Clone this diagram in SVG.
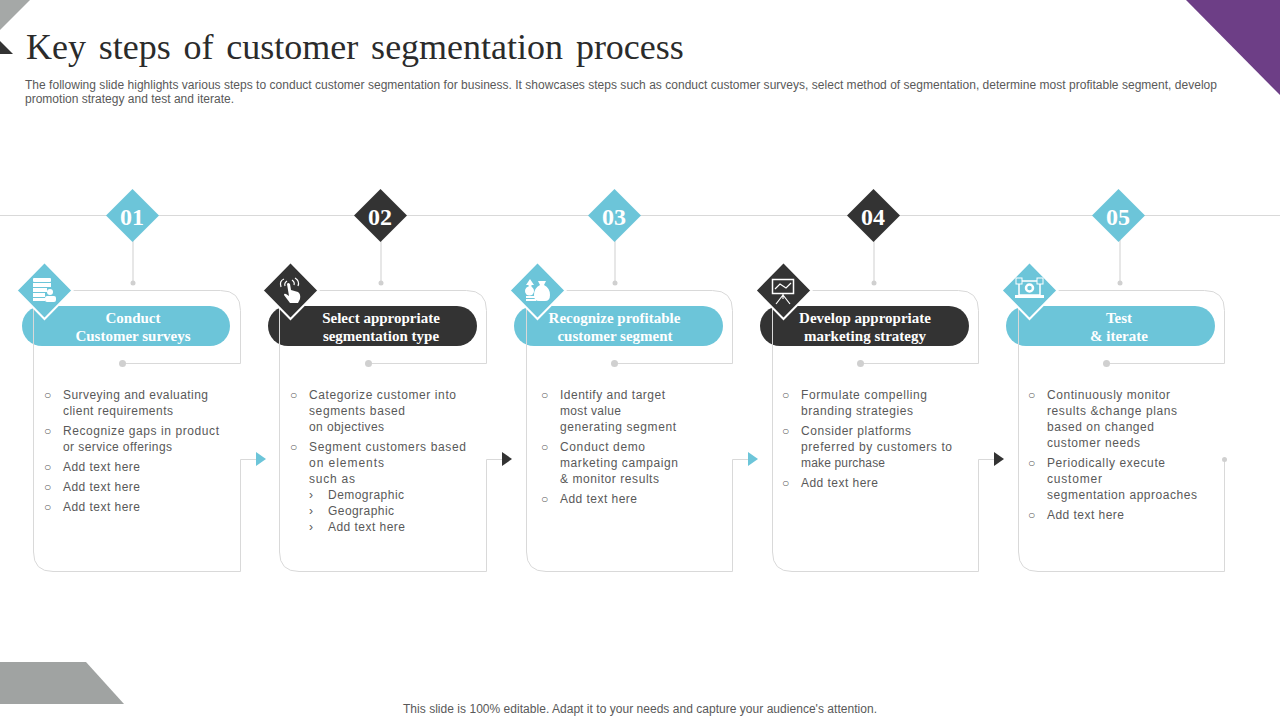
<svg xmlns="http://www.w3.org/2000/svg" width="1280" height="720" viewBox="0 0 1280 720">
<style>
text{font-family:"Liberation Sans",Arial,sans-serif;fill:#595959}
.b{font-size:12px;transform:translateY(-1px)}
.bul{font-size:12px;fill:#595959;transform:translateY(-1px)}
.d{font-size:12px}
.h{font-family:"Liberation Serif","Times New Roman",serif;font-weight:bold;font-size:15px;fill:#fff;text-anchor:middle}
.n{font-family:"Liberation Serif","Times New Roman",serif;font-weight:bold;font-size:24px;fill:#fff;text-anchor:middle}
.ln{fill:none;stroke:#d9d9d9;stroke-width:1}
.tick{fill:none;stroke:#e0e0e0;stroke-width:1.5}
.dot{fill:#d0d0d0}
.teal{fill:#6cc5d9}
.dark{fill:#333333}
.ic{fill:#fff}
.ics{fill:none;stroke:#fff;stroke-width:1.2}
.edge{stroke:#fff;stroke-width:2}
</style>
<g id="decor">
<polygon points="0,0 30,0 0,30" fill="#a5a8a7"/>
<polygon points="0,41 13,54 0,54" fill="#333333"/>
<polygon points="1186,0 1280,0 1280,95" fill="#6d3e86"/>
<polygon points="0,662 86,662 124,704 0,704" fill="#a0a3a2"/>
</g>
<text id="title" x="26" y="59" font-size="36" word-spacing="3.800" style="font-family:'Liberation Serif','Times New Roman',serif;fill:#2b2b2b">Key steps of customer segmentation process</text>
<g id="subtitle">
<text class="d" x="25" y="89" textLength="1192">The following slide  highlights various steps to conduct customer segmentation for business. It showcases steps such as conduct customer surveys, select method of segmentation, determine most profitable segment, develop</text>
<text class="d" x="25" y="103" textLength="209">promotion strategy and test and iterate.</text>
</g>
<g id="connectors">
<path class="ln" d="M0 215.500H1280"/>
<path class="tick" d="M133 240V285M381 240V285M615 240V285M874 240V285M1120 240V285"/>
<g class="dot"><circle cx="133" cy="283" r="2.500"/><circle cx="381" cy="283" r="2.500"/><circle cx="615" cy="283" r="2.500"/><circle cx="874" cy="283" r="2.500"/><circle cx="1120" cy="283" r="2.500"/></g>
<polygon class="teal" points="256,452 266,459 256,466"/>
<polygon class="dark" points="502,452 512,459 502,466"/>
<polygon class="teal" points="748,452 758,459 748,466"/>
<polygon class="dark" points="994,452 1004,459 994,466"/>
</g>
<g id="card1">
<path class="ln" d="M72 290.500H220.500Q240.500 290.500 240.500 310.500V363.500H123"/><circle class="dot" cx="122.500" cy="363.500" r="3.500"/>
<path class="ln" d="M33.500 308V552Q33.500 571.500 53 571.500H240.500V459.500H256"/>
<rect class="teal" x="22" y="306" width="208" height="40" rx="20"/>
<path class="ln" d="M33.500 308V346"/>
<polygon class="teal edge" points="44.500,262 72.500,290.500 44.500,319 16.500,290.500"/>
<g class="ic"><rect x="33" y="278" width="18" height="4" rx="1"/><rect x="33" y="283" width="18" height="4"/><rect x="33" y="288" width="14" height="4"/><rect x="33" y="293" width="12" height="4"/><rect x="33" y="298" width="12" height="3"/><circle cx="50" cy="292" r="3"/><rect x="45" y="296" width="11" height="6" rx="2"/></g>
<text class="h" x="133" y="323">Conduct</text><text class="h" x="133" y="341">Customer surveys</text>
<g id="num1"><polygon class="teal" points="132.500,189 159,215.500 132.500,242 106,215.500"/><text class="n" x="132" y="225">01</text></g>
<text class="bul" x="44" y="400">○</text><text class="b" x="63" y="400" textLength="145">Surveying  and evaluating</text>
<text class="b" x="63" y="416" textLength="110">client requirements</text>
<text class="bul" x="44" y="436">○</text><text class="b" x="63" y="436" textLength="156">Recognize gaps in product</text>
<text class="b" x="63" y="452" textLength="109">or service  offerings</text>
<text class="bul" x="44" y="472">○</text><text class="b" x="63" y="472" textLength="77">Add text here</text>
<text class="bul" x="44" y="492">○</text><text class="b" x="63" y="492" textLength="77">Add text here</text>
<text class="bul" x="44" y="512">○</text><text class="b" x="63" y="512" textLength="77">Add text here</text>
</g>
<g id="card2">
<path class="ln" d="M318 290.500H466.500Q486.500 290.500 486.500 310.500V363.500H369"/><circle class="dot" cx="368.500" cy="363.500" r="3.500"/>
<path class="ln" d="M279.500 308V552Q279.500 571.500 299 571.500H486.500V459.500H502"/>
<rect class="dark" x="268" y="306" width="209" height="40" rx="20"/>
<path class="ln" d="M279.500 308V346"/>
<polygon class="dark edge" points="290.500,262 318.500,290.500 290.500,319 262.500,290.500"/>
<g><path class="ic" d="M287 284q1-2 3 0l1 6 7 2q3 2 2 7l-2 4h-8l-6-8q0-2 2-1l3 2z"/><path class="ics" d="M281 287q-2-6 3-8M285 286q-1-3 2-5M298 286q2-5-3-8M294 285q1-3-2-5"/></g>
<text class="h" x="381" y="323">Select appropriate</text><text class="h" x="381" y="341">segmentation type</text>
<g id="num2"><polygon class="dark" points="380.500,189 407,215.500 380.500,242 354,215.500"/><text class="n" x="380" y="225">02</text></g>
<text class="bul" x="290" y="400">○</text><text class="b" x="309" y="400" textLength="147">Categorize customer into</text>
<text class="b" x="309" y="416" textLength="96">segments based</text>
<text class="b" x="309" y="432" textLength="75">on objectives</text>
<text class="bul" x="290" y="452">○</text><text class="b" x="309" y="452" textLength="157">Segment customers based</text>
<text class="b" x="309" y="468" textLength="75">on elements</text>
<text class="b" x="309" y="484" textLength="46">such as</text>
<text class="bul" x="309" y="500">›</text><text class="b" x="328" y="500" textLength="76">Demographic</text>
<text class="bul" x="309" y="516">›</text><text class="b" x="328" y="516" textLength="66">Geographic</text>
<text class="bul" x="309" y="532">›</text><text class="b" x="328" y="532" textLength="77">Add text here</text>
</g>
<g id="card3">
<path class="ln" d="M564 290.500H712.500Q732.500 290.500 732.500 310.500V363.500H615"/><circle class="dot" cx="614.500" cy="363.500" r="3.500"/>
<path class="ln" d="M526.500 308V552Q526.500 571.500 546 571.500H732.500V459.500H748"/>
<rect class="teal" x="514" y="306" width="209" height="40" rx="20"/>
<path class="ln" d="M526.500 308V346"/>
<polygon class="teal edge" points="537.500,262 565.500,290.500 537.500,319 509.500,290.500"/>
<g class="ic"><path d="M529 292l-.5-7h-2.500l4-6 4 6h-2.500v7z"/><circle cx="529.500" cy="291" r="4.500"/><rect x="526" y="296" width="10" height="2"/><rect x="526" y="299" width="10" height="2"/><path d="M538 281h8l-2 4q6 3 6 10 0 6-5 6h-6q-5 0-5-6 0-7 6-10z"/></g>
<text class="h" x="614.500" y="323">Recognize profitable</text><text class="h" x="615" y="341">customer segment</text>
<g id="num3"><polygon class="teal" points="614.500,189 641,215.500 614.500,242 588,215.500"/><text class="n" x="614" y="225">03</text></g>
<text class="bul" x="541" y="400">○</text><text class="b" x="560" y="400" textLength="105">Identify and target</text>
<text class="b" x="560" y="416" textLength="61">most value</text>
<text class="b" x="560" y="432" textLength="116">generating  segment</text>
<text class="bul" x="541" y="452">○</text><text class="b" x="560" y="452" textLength="85">Conduct demo</text>
<text class="b" x="560" y="468" textLength="118">marketing campaign</text>
<text class="b" x="560" y="484" textLength="99">&amp; monitor results</text>
<text class="bul" x="541" y="504">○</text><text class="b" x="560" y="504" textLength="77">Add text here</text>
</g>
<g id="card4">
<path class="ln" d="M810 290.500H958.500Q978.500 290.500 978.500 310.500V363.500H861"/><circle class="dot" cx="860.500" cy="363.500" r="3.500"/>
<path class="ln" d="M772.500 308V552Q772.500 571.500 792 571.500H978.500V459.500H994"/>
<rect class="dark" x="760" y="306" width="209" height="40" rx="20"/>
<path class="ln" d="M772.500 308V346"/>
<polygon class="dark edge" points="783.500,262 811.500,290.500 783.500,319 755.500,290.500"/>
<g><rect x="772.500" y="279.500" width="21" height="14" fill="none" stroke="#fff" stroke-width="1.500"/><path class="ics" d="M783 294V299M783 295L776 304M783 295L790 304M775 289L780 284L786 288L791 283"/></g>
<text class="h" x="865" y="323">Develop appropriate</text><text class="h" x="865" y="341">marketing strategy</text>
<g id="num4"><polygon class="dark" points="873.500,189 900,215.500 873.500,242 847,215.500"/><text class="n" x="873" y="225">04</text></g>
<text class="bul" x="782" y="400">○</text><text class="b" x="801" y="400" textLength="126">Formulate compelling</text>
<text class="b" x="801" y="416" textLength="112">branding strategies</text>
<text class="bul" x="782" y="436">○</text><text class="b" x="801" y="436" textLength="110">Consider  platforms</text>
<text class="b" x="801" y="452" textLength="151">preferred  by customers to</text>
<text class="b" x="801" y="468" textLength="84">make purchase</text>
<text class="bul" x="782" y="488">○</text><text class="b" x="801" y="488" textLength="77">Add text here</text>
</g>
<g id="card5">
<path class="ln" d="M1056 290.500H1204.500Q1224.500 290.500 1224.500 310.500V363.500H1107"/><circle class="dot" cx="1106.500" cy="363.500" r="3.500"/>
<path class="ln" d="M1018.500 308V552Q1018.500 571.500 1038 571.500H1224.500V459.500"/><circle class="dot" cx="1224.500" cy="459.500" r="2.500"/>
<rect class="teal" x="1006" y="306" width="209" height="40" rx="20"/>
<path class="ln" d="M1018.500 308V346"/>
<polygon class="teal edge" points="1029.500,262 1057.500,290.500 1029.500,319 1001.500,290.500"/>
<g><rect x="1019" y="281" width="21" height="14" fill="none" stroke="#fff" stroke-width="1.500"/><rect x="1015" y="295" width="29" height="3" class="ic"/><circle cx="1029.500" cy="288" r="3.500" fill="none" stroke="#fff" stroke-width="2.500"/><rect x="1016" y="278" width="6" height="6" fill="#6cc5d9" stroke="#fff"/><rect x="1037" y="278" width="6" height="6" fill="#6cc5d9" stroke="#fff"/></g>
<text class="h" x="1119" y="323">Test</text><text class="h" x="1119" y="341">&amp; iterate</text>
<g id="num5"><polygon class="teal" points="1118.500,189 1145,215.500 1118.500,242 1092,215.500"/><text class="n" x="1118" y="225">05</text></g>
<text class="bul" x="1028" y="400">○</text><text class="b" x="1047" y="400" textLength="123">Continuously monitor</text>
<text class="b" x="1047" y="416" textLength="130">results &amp;change plans</text>
<text class="b" x="1047" y="432" textLength="107">based on changed</text>
<text class="b" x="1047" y="448" textLength="93">customer needs</text>
<text class="bul" x="1028" y="468">○</text><text class="b" x="1047" y="468" textLength="118">Periodically execute</text>
<text class="b" x="1047" y="484" textLength="55">customer</text>
<text class="b" x="1047" y="500" textLength="150">segmentation approaches</text>
<text class="bul" x="1028" y="520">○</text><text class="b" x="1047" y="520" textLength="77">Add text here</text>
</g>
<text id="footer" class="d" x="403" y="713" textLength="474">This slide is 100% editable. Adapt it to your needs and capture your audience's attention.</text>
</svg>
